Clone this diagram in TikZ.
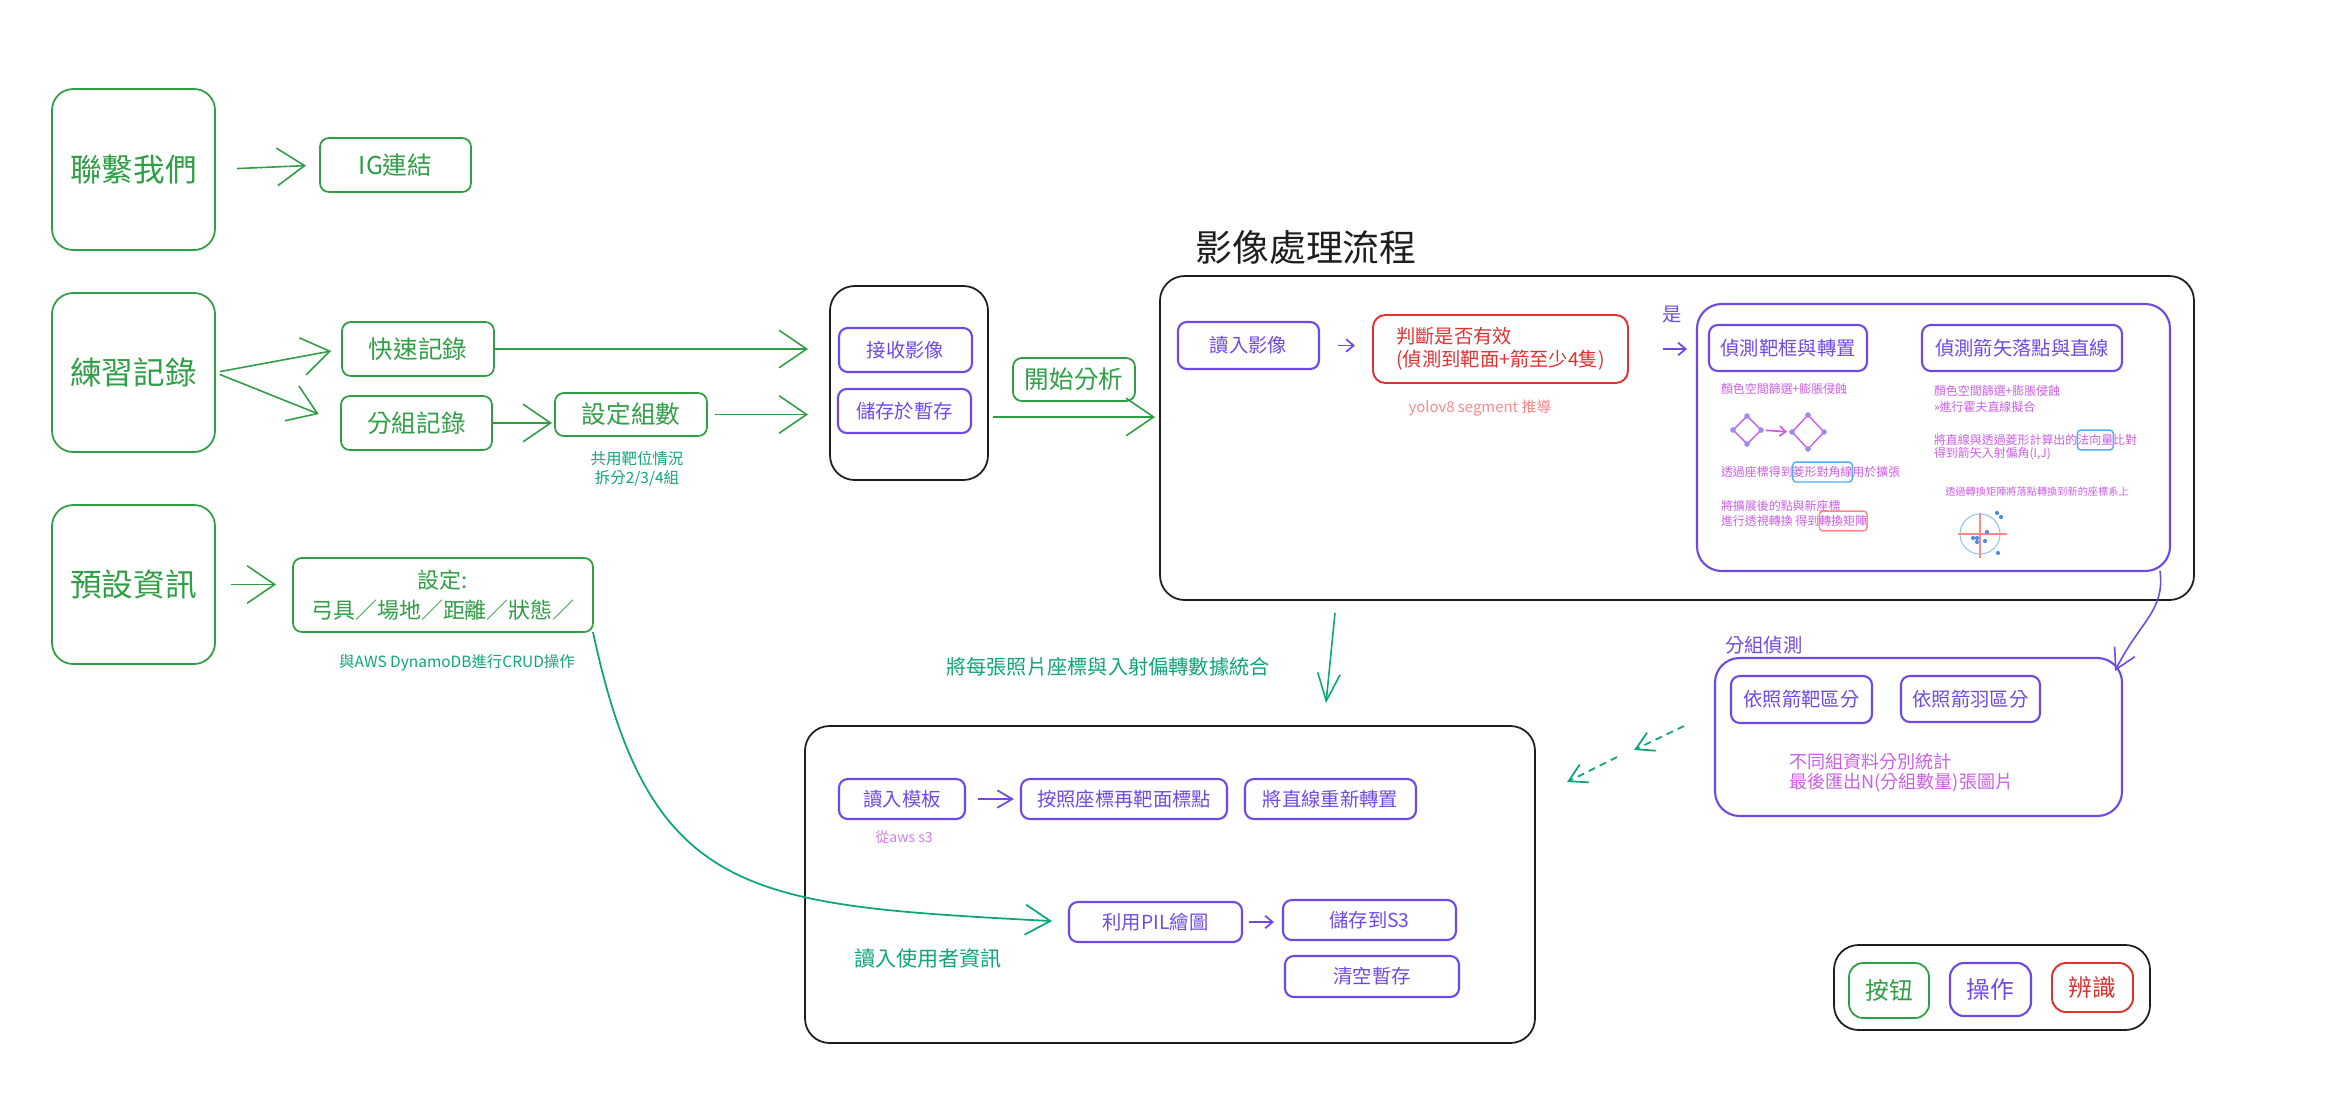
\documentclass[tikz,border=0pt]{standalone}
\usepackage{fontspec}
\setmainfont{Noto Sans CJK TC}
\usetikzlibrary{arrows.meta,fit,positioning,shapes.geometric}

\definecolor{btngreen}{HTML}{2F9E44}
\definecolor{notegreen}{HTML}{0CA678}
\definecolor{opviolet}{HTML}{7048E8}
\definecolor{chkred}{HTML}{E03131}
\definecolor{notepink}{HTML}{CC5DE8}
\definecolor{noteblue}{HTML}{4DABF7}
\definecolor{softred}{HTML}{FF8787}
\definecolor{dotblue}{HTML}{4A90E2}
\definecolor{ringblue}{HTML}{8EC5F5}
\definecolor{vertexdot}{HTML}{9C8CF0}
\definecolor{inkblack}{HTML}{1E1E1E}

\newcommand{\txtsize}[2]{\fontsize{#1}{#2}\selectfont}

\begin{document}
\begin{tikzpicture}[x=0.02cm,y=-0.02cm]
\tikzstyle{every node}=[inner sep=0pt,outer sep=0pt]
\tikzset{sz/.style 2 args={minimum width=#1*0.02cm,minimum height=#2*0.02cm}}
\tikzstyle{btn}=[draw=btngreen,text=btngreen,line width=1pt,rounded corners=5pt]
\tikzstyle{bigbtn}=[btn,rounded corners=12pt,font=\txtsize{18}{22}]
\tikzstyle{midbtn}=[btn,font=\txtsize{14}{17}]
\tikzstyle{op}=[draw=opviolet,text=opviolet,line width=1.2pt,rounded corners=5pt,font=\txtsize{11}{14}]
\tikzstyle{chk}=[draw=chkred,text=chkred,line width=1.1pt,rounded corners=7pt]
\tikzstyle{stage}=[draw=inkblack,line width=1pt,rounded corners=14pt]
\tikzstyle{note}=[text=notepink,font=\txtsize{6.8}{8}]
\tikzstyle{gnote}=[text=notegreen,font=\txtsize{8.8}{11}]
\tikzstyle{markbox}=[note,draw=noteblue,line width=0.8pt,rounded corners=2pt,inner ysep=2.5pt]
\tikzstyle{garrow}=[draw=btngreen,line width=0.9pt,-{Straight Barb[length=0.55cm,width=0.75cm]}]
\tikzstyle{tarrow}=[draw=notegreen,line width=0.9pt,-{Straight Barb[length=0.55cm,width=0.45cm]}]
\tikzstyle{gdash}=[draw=notegreen,line width=1pt,dash pattern=on 4pt off 3pt,-{Straight Barb[length=0.35cm,width=0.4cm]}]
\tikzstyle{parrow}=[draw=opviolet,line width=1pt,-{Straight Barb[length=0.15cm,width=0.25cm]}]
\tikzstyle{pinkarrow}=[draw=notepink,line width=1pt,-{Straight Barb[length=0.12cm,width=0.2cm]}]

\useasboundingbox (0,0) rectangle (2333,1113);

%% Entry buttons on the left
\node[bigbtn,sz={163}{161}] (contact) at (133.5,169.5) {聯繫我們};
\node[midbtn,sz={151}{54}] (iglink) at (395.5,165) {IG連結};
\node[bigbtn,sz={163}{159}] (practice) at (133.5,372.5) {練習記錄};
\node[midbtn,sz={152}{54}] (quick) at (418,349) {快速記錄};
\node[midbtn,sz={151}{54}] (grouprec) at (416.5,423) {分組記錄};
\node[midbtn,sz={152}{43}] (groupnum) at (631,414.5) {設定組數};
\node[gnote,align=center] (sharenote) at (637,469) {共用靶位情況\\拆分2/3/4組};
\node[bigbtn,sz={163}{159}] (preset) at (133.5,584.5) {預設資訊};
\node[btn,sz={300}{74},align=center,font=\txtsize{12.5}{17}] (settings) at (443,595)
	{設定:\\弓具／場地／距離／狀態／};
\node[gnote] (dbnote) at (457,663) {與AWS DynamoDB進行CRUD操作};

%% Upload step
\node[stage,fit={(830,286) (988,480)}] (stage1) {};
\node[op,sz={133}{44}] (recv) at (905.5,350) {接收影像};
\node[op,sz={133}{44}] (tempsave) at (904.5,411) {儲存於暫存};
\node[midbtn,sz={122}{43}] (analyze) at (1074,379.5) {開始分析};

\draw[garrow,shorten <=0.44cm,shorten >=0.28cm] (contact.east) -- (iglink.west);
\draw[garrow,shorten <=0.1cm,shorten >=0.22cm] (practice.east) -- (quick.west);
\draw[garrow,shorten <=0.1cm,shorten >=0.48cm] (practice.east) -- (grouprec.west);
\draw[garrow,shorten >=0.44cm] (quick.east) -- (quick.east -| stage1.west);
\draw[garrow,shorten >=0.06cm] (grouprec.east) -- (grouprec.east -| groupnum.west);
\draw[garrow,shorten <=0.16cm,shorten >=0.44cm] (groupnum.east) -- (groupnum.east -| stage1.west);
\draw[garrow,shorten <=0.32cm,shorten >=0.34cm] (preset.east) -- (preset.east -| settings.west);

%% Image processing
\node[font=\txtsize{21}{25},text=inkblack] (title) at (1306,248) {影像處理流程};
\node[stage,fit={(1160,276) (2194,600)}] (stage2) {};
\draw[garrow,shorten <=0.1cm,shorten >=0.1cm] ([yshift=-0.68cm]stage1.east)
	-- ([yshift=-0.68cm]stage1.east -| stage2.west);

\node[op,sz={141}{47}] (readimg) at (1248.5,345.5) {讀入影像};
\node[chk,sz={255}{68},align=left,font=\txtsize{11}{13}] (valid) at (1500.5,349)
	{判斷是否有效\\(偵測到靶面+箭至少4隻)};
\node[text=softred,font=\txtsize{8.5}{10}] (yolonote) at (1480,408) {yolov8 segment 推導};
\node[text=opviolet,font=\txtsize{11}{13}] (yes) at (1672,315) {是};

\node[op,rounded corners=14pt,fit={(1697,304) (2170,571)}] (detect) {};
\node[op,sz={158}{46}] (targetbox) at (1788,348) {偵測靶框與轉置};
\node[op,sz={200}{46}] (arrowline) at (2022,348) {偵測箭矢落點與直線};

\draw[parrow,shorten <=0.38cm,shorten >=0.36cm] (readimg.east) -- (readimg.east -| valid.west);
\draw[parrow,shorten <=0.7cm,shorten >=0.2cm] (valid.east) -- (valid.east -| detect.west);

% target frame column
\node[note,anchor=west] (colorA) at (1721,389) {顏色空間篩選+膨脹侵蝕};
\node[diamond,draw=notepink,line width=0.8pt,minimum width=0.56cm,minimum height=0.56cm] (rawdia) at (1747,430) {};
\node[diamond,draw=notepink,line width=0.8pt,minimum width=0.64cm,minimum height=0.68cm] (widedia) at (1808,432) {};
\foreach \d in {rawdia,widedia}
	\foreach \a in {north,south,east,west}
		\fill[vertexdot] (\d.\a) circle (1.6pt);
\draw[pinkarrow,shorten <=0.1cm,shorten >=0.1cm] (rawdia.east) -- (widedia.west);
\node[note,anchor=west] (cornerA) at (1721,472) {透過座標得到};
\node[markbox,anchor=base west] (diagbox) at (cornerA.base east) {菱形對角線};
\node[note,anchor=base west] (cornerB) at (diagbox.base east) {用於擴張};
\node[note,anchor=west] (warpA) at (1721,506) {將擴展後的點與新座標};
\node[note,anchor=west] (warpB) at (1721,521) {進行透視轉換\ 得到};
\node[markbox,draw=softred,anchor=base west] (matbox) at (warpB.base east) {轉換矩陣};

% arrow line column
\node[note,anchor=west] (colorB) at (1934,391) {顏色空間篩選+膨脹侵蝕};
\node[note,anchor=west] (hough) at (1934,407) {>>進行霍夫直線擬合};
\node[note,anchor=west] (normA) at (1934,440) {將直線與透過菱形計算出的};
\node[markbox,anchor=base west] (normbox) at (normA.base east) {法向量};
\node[note,anchor=base west] (normB) at (normbox.base east) {比對};
\node[note,anchor=west] (angle) at (1934,454) {得到箭矢入射偏角(I,J)};
\node[note,font=\txtsize{5.8}{7}] (remap) at (2037,492) {透過轉換矩陣將落點轉換到新的座標系上};

\draw[ringblue,line width=0.6pt] (1980,534) circle (0.4cm);
\draw[softred,line width=1.2pt] (1958,534) -- (2007,534) (1980,513) -- (1980,558);
\foreach \p in {(1997,513),(2001,517),(1987,532),(1973,538),(1977,538),(1977,542),(1985,541),(1998,553)}
	\fill[dotblue] \p circle (1.2pt);

%% Grouped detection
\node[op,rounded corners=14pt,fit={(1715,658) (2122,816)}] (grouping) {};
\node[text=opviolet,font=\txtsize{11}{13},anchor=west] (grouplabel) at (1725,645) {分組偵測};
\node[op,sz={141}{47}] (bytarget) at (1801.5,699.5) {依照箭靶區分};
\node[op,sz={139}{46}] (byfletch) at (1970.5,699) {依照箭羽區分};
\node[text=notepink,font=\txtsize{10.3}{11.5},align=left,anchor=west] (exportnote) at (1789,773)
	{不同組資料分別統計\\最後匯出N(分組數量)張圖片};
\draw[draw=opviolet,line width=0.9pt,-{Straight Barb[length=0.4cm,width=0.45cm]}]
	([xshift=-0.2cm]detect.south east) .. controls +(0.1cm,-0.8cm) and +(0.5cm,1cm)
	.. ([shift={(-0.14cm,-0.26cm)}]grouping.north east);

\coordinate (dashA) at (1684,726);
\coordinate (dashB) at (1634,750);
\coordinate (dashC) at (1617,757);
\coordinate (dashD) at (1567,782);
\draw[gdash] (dashA) -- (dashB);
\draw[gdash] (dashC) -- (dashD);

%% Merge and drawing
\coordinate (mergefrom) at (1335,613);
\coordinate (mergeto) at (1326,703);
\draw[tarrow] (mergefrom) -- (mergeto);
\node[gnote,font=\txtsize{11.5}{14}] (mergenote) at (1108,667) {將每張照片座標與入射偏轉數據統合};

\node[stage,fit={(805,726) (1535,1043)}] (stage3) {};
\node[op,sz={126}{40}] (template) at (902,799) {讀入模板};
\node[text=notepink!80,font=\txtsize{8}{10}] (s3note) at (904,837) {從aws s3};
\node[op,sz={206}{40}] (plot) at (1124,799) {按照座標再靶面標點};
\node[op,sz={171}{40}] (relines) at (1330.5,799) {將直線重新轉置};
\node[op,sz={173}{40}] (pil) at (1155.5,922) {利用PIL繪圖};
\node[op,sz={173}{40}] (saves3) at (1369.5,920) {儲存到S3};
\node[op,sz={174}{41}] (cleartmp) at (1372,976.5) {清空暫存};
\node[text=notegreen,font=\txtsize{12}{14}] (userinfo) at (928,958) {讀入使用者資訊};

\draw[draw=opviolet,line width=1pt,-{Straight Barb[length=0.3cm,width=0.35cm]},
	shorten <=0.26cm,shorten >=0.14cm] (template.east) -- (plot.west);
\draw[parrow,shorten <=0.14cm,shorten >=0.18cm] (pil.east) -- (pil.east -| saves3.west);
\draw[draw=notegreen,line width=1pt,-{Straight Barb[length=0.5cm,width=0.6cm]},shorten >=0.34cm]
	(settings.south east) .. controls (650,900) and (750,905) .. (pil.west);

%% Legend
\node[stage,fit={(1834,945) (2150,1030)}] (legend) {};
\node[btn,rounded corners=8pt,font=\txtsize{13.5}{16},sz={80}{55}] (keybtn) at (1889,990.5) {按钮};
\node[op,rounded corners=8pt,font=\txtsize{13.5}{16},sz={81}{53}] (keyop) at (1990.5,989.5) {操作};
\node[chk,rounded corners=8pt,font=\txtsize{13.5}{16},sz={81}{49}] (keychk) at (2092.5,987.5) {辨識};

\end{tikzpicture}
\end{document}
